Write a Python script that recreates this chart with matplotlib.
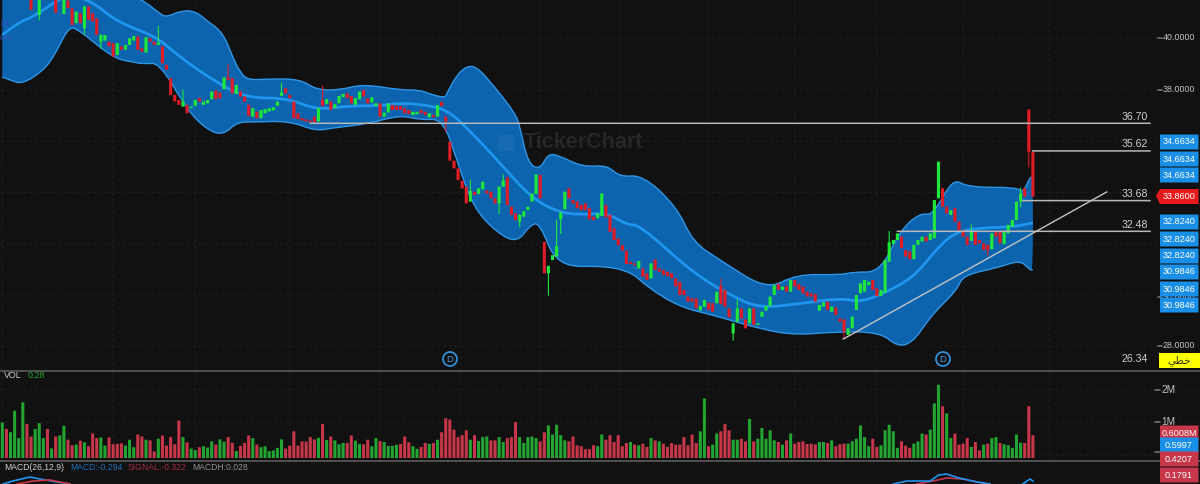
import matplotlib
matplotlib.use("Agg")
import matplotlib.pyplot as plt
from matplotlib.patches import Rectangle, Circle, PathPatch
from matplotlib.path import Path
import numpy as np

# candle bodies
opens = [
    41.7, 41.9, 41.7, 41.7, 41.7, 41.7, 41.9, 41.6, 41.7, 40.93,
    41.7, 41.9, 41.7, 41.6, 41.7, 40.97, 41.5, 41.19, 40.61, 41.0,
    40.41, 41.26, 41.0, 40.8, 39.89, 39.93, 39.89, 39.83, 39.37, 39.7,
    39.57, 39.76, 39.93, 40.09, 39.63, 39.46, 40.02, 39.89, 39.76, 39.7,
    38.98, 38.46, 37.81, 37.61, 37.35, 37.42, 37.29, 37.38, 37.68, 37.42,
    37.48, 37.64, 37.98, 37.9, 38.03, 38.49, 38.46, 37.85, 37.94, 37.74,
    37.42, 36.96, 37.16, 36.9, 37.09, 37.16, 37.2, 37.38, 37.77, 38.07,
    37.81, 37.55, 37.09, 36.9, 36.86, 36.81, 36.96, 36.77, 37.61, 37.46,
    37.55, 37.29, 37.48, 37.72, 37.87, 37.77, 37.42, 37.64, 38.0, 37.68,
    37.51, 37.38, 37.48, 36.96, 37.12, 37.42, 37.38,
    37.37, 37.28, 37.22,
    37.02, 37.05, 37.22, 37.15, 36.93, 37.02, 36.96, 37.54, 36.96, 35.98,
    35.24, 34.94, 34.46, 34.22, 33.64, 34.03, 33.94, 34.12, 34.07, 34.03,
    33.77, 33.57, 34.22, 34.59, 33.44, 33.18, 32.86, 33.05, 33.31, 33.64,
    33.94, 34.68, 32.07, 30.84, 31.36, 31.49, 32.95, 33.34, 34.16, 33.7,
    33.64, 33.51, 33.57, 33.38, 33.05, 32.99, 33.08, 33.51, 33.12, 32.6,
    32.2, 31.94, 31.72, 31.29, 31.23, 31.03, 31.03, 30.84, 30.64, 31.38,
    31.03, 30.97, 30.9, 30.84, 30.64, 30.51, 30.19, 29.93, 29.86, 29.86,
    29.38, 29.53, 29.69, 29.67, 29.67, 30.34, 30.19, 29.47, 28.49, 28.95,
    29.47, 29.04, 28.88, 29.47, 28.82, 29.14, 29.38, 29.56, 29.99, 30.42,
    30.19, 30.34, 30.12, 30.58, 30.42,
    30.32, 30.12, 30.06, 30.03, 29.38, 29.54, 29.73, 29.34, 29.51, 29.08,
    29.04, 28.43, 28.69, 29.41, 30.06, 30.12, 30.38, 30.58, 30.25, 29.95,
    30.08, 31.29, 31.98, 32.14, 32.27, 31.75, 31.69, 31.39, 31.95, 32.08,
    32.27, 32.14, 32.21, 33.77, 34.16, 33.44, 33.12, 33.38, 32.86, 32.53,
    32.27, 32.11, 32.47, 32.14, 32.01, 31.95, 31.78, 32.5, 32.47, 31.98,
    32.4, 32.66, 32.92, 33.64, 34.16, 37.24, 35.59,
]
closes = [
    41.9, 41.7, 41.9, 41.9, 41.9, 41.9, 41.7, 41.13, 41.9, 41.6,
    41.9, 41.7, 41.9, 41.02, 41.9, 41.6, 41.2, 40.54, 41.06, 40.61,
    41.26, 40.74, 40.67, 40.15, 40.15, 40.15, 39.7, 39.3, 39.83, 39.57,
    39.76, 40.02, 40.11, 39.57, 39.5, 40.06, 39.89, 39.76, 39.85, 39.05,
    38.79, 37.81, 37.55, 37.42, 37.55, 37.09, 37.35, 37.61, 37.55, 37.55,
    37.61, 37.94, 37.64, 37.68, 38.49, 38.4, 37.87, 38.2, 37.74, 37.55,
    36.99, 37.29, 36.9, 37.22, 37.25, 37.29, 37.33, 37.55, 37.9, 37.87,
    37.68, 36.9, 36.86, 36.81, 36.77, 36.74, 36.73, 37.29, 37.38, 37.64,
    37.22, 37.46, 37.77, 37.85, 37.68, 37.48, 37.68, 37.94, 37.74, 37.48,
    37.72, 37.48, 36.96, 37.12, 37.48, 37.22, 37.22,
    37.22, 37.09, 37.06,
    37.15, 37.15, 37.09, 37.02, 37.09, 36.93, 37.41, 37.37, 36.76, 35.24,
    34.94, 34.48, 34.16, 33.57, 34.05, 33.9, 34.16, 34.42, 33.96, 33.77,
    33.57, 34.22, 34.46, 33.51, 33.12, 32.92, 33.12, 33.27, 33.44, 33.96,
    34.7, 33.77, 30.84, 31.12, 31.55, 31.9, 33.21, 34.03, 33.77, 33.57,
    33.38, 33.31, 33.31, 32.95, 32.92, 33.18, 33.96, 33.03, 32.46, 32.14,
    31.94, 31.72, 31.2, 31.2, 31.16, 31.32, 30.71, 30.58, 31.23, 30.97,
    30.9, 30.77, 30.73, 30.64, 30.32, 29.99, 29.99, 29.73, 29.73, 29.47,
    29.56, 29.8, 29.41, 29.34, 30.12, 29.64, 29.53, 29.12, 28.88, 29.47,
    29.08, 28.69, 29.47, 28.82, 28.88, 29.34, 29.56, 29.93, 30.38, 30.19,
    30.32, 30.12, 30.58, 30.32, 30.19,
    30.06, 29.93, 29.93, 29.73, 29.6, 29.71, 29.41, 29.54, 29.21, 28.95,
    28.56, 28.69, 29.15, 29.99, 30.45, 30.58, 30.51, 30.19, 29.95, 30.19,
    31.36, 32.05, 32.14, 32.4, 31.82, 31.49, 31.39, 31.95, 32.14, 32.27,
    32.08, 32.4, 33.7, 35.2, 33.44, 33.18, 33.31, 32.86, 32.53, 32.27,
    31.95, 32.47, 31.95, 32.01, 31.75, 31.75, 32.4, 32.27, 32.01, 32.47,
    32.73, 32.92, 33.64, 33.96, 33.83, 35.59, 33.83,
]

# only the wicks that can be seen
wick_bars = [9, 20, 24, 38, 44, 55, 68, 78, 108, 114, 121, 122, 126, 133, 135, 136,
             175, 178, 179, 205, 216, 236, 240, 248, 248, 250]
wick_ends = [40.74, 40.2, 39.63, 40.48, 38.0, 38.98, 38.27, 38.14, 36.37, 34.48, 33.18, 34.68, 32.66, 29.99, 32.92, 32.4,
             30.6, 28.23, 29.8, 28.3, 32.47, 32.73, 31.55, 34.16, 33.44, 35.0]

# bollinger bands
upper_bars = [0, 23.8, 34.3, 38.4, 40.1, 43.3, 46.9, 49.9, 53.8, 56.2, 57.9, 59.8, 64.5, 72.5, 76.6, 82.2, 87.9, 96.9,
              101.7, 104.2, 107.8, 108.3, 110.7, 113.2, 115.6, 119.5, 124.9, 126.1, 128, 130.9, 132.9, 135.3, 141.4,
              147.3, 150.4, 156, 164.3, 168.2, 174.8, 186.2, 193.5, 204, 207.2, 213.8, 218.6, 223.5, 226.7, 231.5,
              235, 247.1, 248.6, 250.3, 251]
upper_vals = [42.69, 42.3, 41.52, 40.97, 40.85, 41.09, 41.09, 40.7, 40.23, 39.25, 38.7, 38.39, 38.43, 38.43, 38.0, 38.0, 38.23, 38.0,
              38.0, 37.84, 37.69, 37.88, 38.59, 38.94, 38.9, 38.2, 37.1, 36.55, 35.15, 34.88, 35.5, 35.46, 34.99,
              35.07, 34.6, 34.68, 33.43, 32.06, 31.36, 30.19, 30.81, 30.77, 30.89, 30.89, 32.5, 33.2, 33.1, 34.56,
              34.2, 34.2, 33.98, 34.6, 34.6]
lower_bars = [0, 1.9, 4.8, 9.9, 12.8, 16, 18.2, 26.9, 31.8, 34.3, 38.4, 45, 49.9, 53.8, 57.2, 61.1, 70, 76.2, 80.5, 88.8, 96.9,
              101.7, 107.3, 110.7, 114.6, 120.5, 125.4, 128.6, 130.9, 135.1, 147.3, 153.6, 157, 165, 173.1, 185.3, 193.5,
              202.3, 213.8, 218.1, 221.8, 225.2, 227.6, 232.5, 234, 242.3, 247.9, 250.3, 251]
lower_vals = [38.51, 38.39, 38.23, 38.74, 39.37, 40.42, 40.42, 39.25, 39.09, 39.02, 39.06, 37.22, 36.44, 36.24, 36.75, 36.75, 36.79, 36.4, 36.52, 36.67, 37.02,
              36.83, 36.87, 35.27, 33.43, 32.42, 32.03, 32.73, 32.81, 31.09, 31.13, 30.85, 30.31, 29.52, 29.21, 28.63, 28.43,
              28.55, 28.55, 27.96, 28.16, 28.94, 29.41, 30.19, 30.77, 31.05, 31.36, 30.97, 30.97]
mid_bars = [0, 3.6, 7.5, 12.8, 15.8, 21.4, 27.9, 37.7, 42.5, 52.3, 59.6, 69.3, 76.6, 84, 92, 96.9, 103.4, 108.3, 113.2, 121.2,
            128.6, 135.1, 140.7, 147.3, 152.1, 155.3, 168.2, 178, 184.6, 193.5, 204, 208.9, 213.8, 221.8, 226.7, 231.5,
            237.4, 246.1, 251]
mid_vals = [40.15, 40.62, 40.85, 41.44, 41.71, 41.52, 40.66, 40.07, 39.37, 38.27, 37.69, 37.69, 37.22, 37.38, 37.38, 37.5, 37.41, 37.22, 36.52, 35.15,
            33.82, 33.24, 33.12, 33.2, 32.73, 32.73, 30.85, 29.92, 29.48, 29.64, 29.87, 29.72, 29.99, 30.66, 31.63, 32.41,
            32.61, 32.65, 32.81]

# drawn levels: value, first bar of the line
level_vals = [36.70, 35.62, 33.68, 32.48]
level_bars = [75, 251, 248.5, 218]
trend_bars = [204.8, 269]
trend_vals = [28.27, 34.02]
price_ticks = [40, 38, 36, 34, 32, 30, 28]
grid_bars = [0, 27, 47, 70, 92, 111.5, 131, 150.5, 172, 193, 213, 234, 255]

# pills on the right axis
blue_pills = ["34.6634", "34.6634", "34.6634", "32.8240", "32.8240", "32.8240", "30.9846", "30.9846", "30.9846"]
last_price = "33.8600"

# volume in millions, and the colour of each bar
volumes = [
    1.0, .8, .7, 1.36, .52, 1.62, .95, .57, .8, .98,
    .52, .8, .2, .57, .6, .9, .47, .3, .32, .44,
    .39, .27, .66, .52, .54, .29, .54, .33, .34, .36,
    .29, .47, .24, .63, .57, .47, .45, .11, .5, .6,
    .29, .55, .33, 1.06, .55, .39, .2, .15, .24, .27,
    .23, .42, .32, .48, .41, .55, .38, .12, .28, .37,
    .6, .52, .32, .24, .27, .12, .14, .22, .48, .2,
    .29, .73, .29, .42, .41, .55, .48, .53, .95, .46,
    .57, .45, .33, .37, .37, .6, .44, .34, .33, .47,
    .27, .52, .43, .4, .28, .28, .31,
    .34, .57, .39, .27, .19, .25, .37, .34, .37, .47,
    .70, 1.13, 1.09, .78, .55, .61, .76, .47, .61, .43,
    .55, .57, .45, .45, .55, .40, .52, .55, 1.01, .55,
    .37, .55, .57, .52, .42, .70, .91, .63, .93, .61,
    .45, .42, .57, .30, .27, .18, .18, .30, .27, .63,
    .47, .61, .40, .61, .27, .37, .40, .32, .30, .35,
    .25, .52, .45, .42, .35, .25, .37, .32, .32, .55,
    .30, .63, .37, .73, 1.74, .27, .32, .66, .73, .95,
    .76, .47, .47, .50, .42, 1.11, .42, .50, .83, .50,
    .76, .45, .40, .32, .45, .66, .35, .40,
    .42, .34, .35, .33, .40, .40, .37, .45, .27, .33,
    .35, .35, .42, .50, .91, .55, .27, .50, .25, .30,
    .76, .93, .73, .22, .42, .29, .22, .35, .42, .66,
    .63, .78, 1.59, 2.16, 1.50, 1.28, .52, .66, .32, .35,
    .52, .25, .40, .14, .32, .35, .52, .55, .37, .33,
    .30, .22, .63, .38, .37, 1.50, .61,
]
volume_sides = ("grggggrrgg" "grgrggrrgr" "grrrggrrrr" "gggrrgrrgr" "rrrrgrggrg"
                "ggrggrrgrr" "rgrggggggr" "rrrrrrrgrg" "rgggrrggrr" "ggrgggg"
                "rrrggrrgrg" "rrrrrrrgrg" "ggrrggrrrg" "ggggrrgggg" "grrrrrrrgg"
                "rrrrrrgrgr" "rgrgrrrrrr" "rrrggrggrr" "rggrrgrggg" "ggrgrgrr"
                "rrrrggrgrr" "rggggggrrg" "ggggrrrggg" "rgggrggrrr" "rgrrgrggrg"
                "ggggrrr")

# macd, only the parts above the bottom edge of the picture
macd_left_bars = [0.2, 2.6, 6.7, 9.2, 13.3, 16.5]
macd_left_vals = [0, .15, .35, .25, .1, 0]
signal_left_bars = [3.6, 7.5, 11.6, 16.5]
signal_left_vals = [0, .15, .2, 0]
macd_mid_bars = [217, 220.3, 226, 228, 230, 233, 237.4, 240.5]
macd_mid_vals = [0, .15, .15, .45, .5, .3, .1, 0]
signal_mid_bars = [222.7, 226.7, 230, 234, 237.4, 240.5]
signal_mid_vals = [0, .15, .3, .25, .1, 0]
macd_end_bars = [248.5, 250.3, 251]
macd_end_vals = [0, .25, .15]

BG = "#111111"
BAND = "#0b64ad"
BAND_EDGE = "#2f96e6"
MID = "#1f95ee"
UP = "#1fe83a"
DOWN = "#e01c26"
VOL_UP = "#22a631"
VOL_DOWN = "#c8364a"
PILL = "#1a8fe8"
GRID = "#212121"
PANE = "#6a6a6a"
FONT = "Liberation Sans"

W, H = 1200, 484
BAR0, BAR_STEP = 2.3, 4.106
XLIM = (-BAR0 / BAR_STEP, (W - BAR0) / BAR_STEP)

# bars sit between pixels in the picture, snapping makes neighbours merge
plt.rcParams['path.snap'] = False


def pane(top, bottom, ylim):
    ax = plt.gcf().add_axes([0, 1 - bottom / H, 1, (bottom - top) / H])
    ax.set_xlim(*XLIM)
    ax.set_ylim(*ylim)
    ax.set_facecolor(BG)
    ax.axis("off")
    return ax


def draw_grid(ax, yvals):
    for x in grid_bars:
        ax.axvline(x, color=GRID, lw=0.7, ls=(0, (3, 3)), zorder=0)
    for y in yvals:
        ax.axhline(y, color=GRID, lw=0.7, ls=(0, (3, 3)), zorder=0)


# rounded outline through the read points, the corners become quadratic curves
def round_path(xs, ys, closed=False):
    pts = np.column_stack([xs, ys])
    verts = [pts[0]]
    codes = [Path.MOVETO]
    for a, b in zip(pts[1:-1], pts[2:]):
        verts += [a, (a + b) / 2]
        codes += [Path.CURVE3, Path.CURVE3]
    verts.append(pts[-1])
    codes.append(Path.LINETO)
    if closed:
        verts.append(pts[0])
        codes.append(Path.CLOSEPOLY)
    return Path(verts, codes)


def draw_main(ax):
    bars = np.arange(len(opens))
    o = np.array(opens)
    c = np.array(closes)
    draw_grid(ax, price_ticks)

    band = round_path(upper_bars + lower_bars[::-1], upper_vals + lower_vals[::-1], closed=True)
    ax.add_patch(PathPatch(band, fc=BAND, ec="none", zorder=1))
    ax.add_patch(PathPatch(round_path(upper_bars, upper_vals), fc="none", ec=BAND_EDGE, lw=1, zorder=2))
    ax.add_patch(PathPatch(round_path(lower_bars, lower_vals), fc="none", ec=BAND_EDGE, lw=1, zorder=2))
    ax.add_patch(PathPatch(round_path(mid_bars, mid_vals), fc="none", ec=MID, lw=2, zorder=2))

    colors = [UP if c[i] >= o[i] else DOWN for i in bars]
    ax.bar(bars, np.abs(c - o), bottom=np.minimum(o, c), width=0.76, color=colors, lw=0, zorder=4)
    for b, end in zip(wick_bars, wick_ends):
        ax.plot([b, b], [closes[b], end], color=colors[b], lw=0.8, zorder=3)

    for val, start in zip(level_vals, level_bars):
        ax.plot([start, (1150 - BAR0) / BAR_STEP], [val, val], color="#b8b8b8", lw=1.1, zorder=5)
    ax.plot(trend_bars, trend_vals, color="#c4c4c4", lw=1, zorder=5)


def draw_volume(ax):
    bars = np.arange(len(volumes))
    floor = -0.092
    draw_grid(ax, [2, 1, 0])
    colors = [VOL_UP if s == "g" else VOL_DOWN for s in volume_sides]
    ax.bar(bars, np.array(volumes) - floor, bottom=floor, width=0.74, color=colors, lw=0, zorder=3)


def draw_macd(ax):
    ax.plot(macd_left_bars, macd_left_vals, color=MID, lw=1.2)
    ax.plot(signal_left_bars, signal_left_vals, color=VOL_DOWN, lw=1.2)
    ax.plot(signal_mid_bars, signal_mid_vals, color=VOL_DOWN, lw=1.2)
    ax.plot(macd_mid_bars, macd_mid_vals, color=MID, lw=1.2)
    ax.plot(macd_end_bars, macd_end_vals, color=MID, lw=1.2)


def pill(ax, y, label, color):
    ax.add_patch(Rectangle((1160, y - 7.5), 38.5, 15, color=color, lw=0, zorder=6))
    ax.text(1179, y, label, color="white", fontsize=6.6, ha="center", va="center", family=FONT, zorder=7)


def draw_overlay(ax):
    # separators between the panes
    ax.plot([0, W], [371, 371], color=PANE, lw=1)
    ax.plot([0, W], [461, 461], color=PANE, lw=1)

    # watermark
    ax.add_patch(Rectangle((498, 135), 16, 16, fc="white", ec="none", alpha=0.05))
    ax.text(524, 143, "TickerChart", color="white", alpha=0.09, fontsize=15.5, fontweight="bold",
            ha="left", va="center", family=FONT)

    # left edge fragments
    ax.text(0, 24, "D)", color="#2f55c8", fontsize=6, va="center", family=FONT)
    ax.text(0, 38, "0%", color="#2f55c8", fontsize=6, va="center", family=FONT)

    # value labels of the drawn levels
    for y, label in zip([117, 144, 194, 225, 359], ["36.70", "35.62", "33.68", "32.48", "26.34"]):
        ax.text(1148, y, label, color="#d0d0d0", fontsize=7.6, ha="right", va="center", family=FONT)

    # price axis
    for y, label in zip([38, 90, 297, 346], ["40.0000", "38.0000", "30.0000", "28.0000"]):
        ax.plot([1158, 1162], [y, y], color="#a0a0a0", lw=0.8)
        ax.text(1163, y, label, color="#c4c4c4", fontsize=6.4, va="center", family=FONT)

    for y, label in zip([142, 159, 175, 222, 239, 256, 272, 289, 305], blue_pills):
        pill(ax, y, label, PILL)
    ax.fill([1156, 1160, 1198.5, 1198.5, 1160], [196, 189, 189, 204, 204], color="#e8191c", lw=0, zorder=6)
    ax.text(1179, 196.5, last_price, color="white", fontsize=6.6, ha="center", va="center", family=FONT, zorder=7)

    # yellow box with the chart scale name (shaped forms, laid out left to right)
    ax.add_patch(Rectangle((1159, 353), 41, 15, color="#ffff00", lw=0, zorder=6))
    ax.text(1179, 360.5, "\ufef2\ufec4\ufea7", color="#333300", fontsize=7.5, ha="center", va="center",
            family="DejaVu Sans", zorder=7)

    # D markers
    for x in [450, 943]:
        ax.add_patch(Circle((x, 359), 7, fc="none", ec="#2f8fd8", lw=1.3))
        ax.text(x, 359.3, "D", color="#3b9be0", fontsize=6.8, ha="center", va="center", family=FONT)

    # volume labels
    ax.text(4, 376, "VOL", color="#cfcfcf", fontsize=6.4, va="center", family=FONT)
    ax.text(28, 376, "0.28", color=VOL_UP, fontsize=6.4, va="center", family=FONT)
    for y, label in zip([390, 422], ["2M", "1M"]):
        ax.plot([1155, 1160], [y, y], color="#a0a0a0", lw=0.8)
        ax.text(1161, y, label, color="#c4c4c4", fontsize=7.2, va="center", family=FONT)
    ax.plot([1155, 1160], [452, 452], color="#a0a0a0", lw=0.8)
    pill(ax, 433, "0.6008M", VOL_DOWN)
    pill(ax, 445, "0.5997", PILL)
    pill(ax, 459, "0.4207", VOL_DOWN)
    pill(ax, 475, "0.1791", VOL_DOWN)
    ax.text(1165, 451.4, "0M", color="#c4c4c4", fontsize=5, va="center", family=FONT, zorder=5)

    # macd labels
    ax.text(4, 467, "MACD(26,12,9)", color="#cfcfcf", fontsize=6.2, va="center", family=FONT)
    ax.text(70, 467, "MACD:-0.294", color="#1f6fb8", fontsize=6.2, va="center", family=FONT)
    ax.text(128, 467, "SIGNAL:-0.322", color="#a03040", fontsize=6.2, va="center", family=FONT)
    ax.text(192, 467, "MACDH:0.028", color="#909090", fontsize=6.2, va="center", family=FONT)


def make_plot():
    fig = plt.figure(figsize=(W / 100, H / 100), dpi=100, facecolor=BG)

    # each pane keeps the scale
    main = pane(0, 371, (41.516 - 371 / 25.6, 41.516))
    vol = pane(371, 461, (-6 / 32.5, 84 / 32.5))
    macd = pane(461, 484, (0, 1.15))
    draw_main(main)
    draw_volume(vol)
    draw_macd(macd)

    overlay = fig.add_axes([0, 0, 1, 1])
    overlay.set_xlim(0, W)
    overlay.set_ylim(H, 0)
    overlay.axis("off")
    overlay.patch.set_alpha(0)
    draw_overlay(overlay)

    fig.savefig("out.png", dpi=100, facecolor=BG)


if __name__ == '__main__':
    assert len(opens) == len(closes) == len(volumes) == len(volume_sides)
    make_plot()
